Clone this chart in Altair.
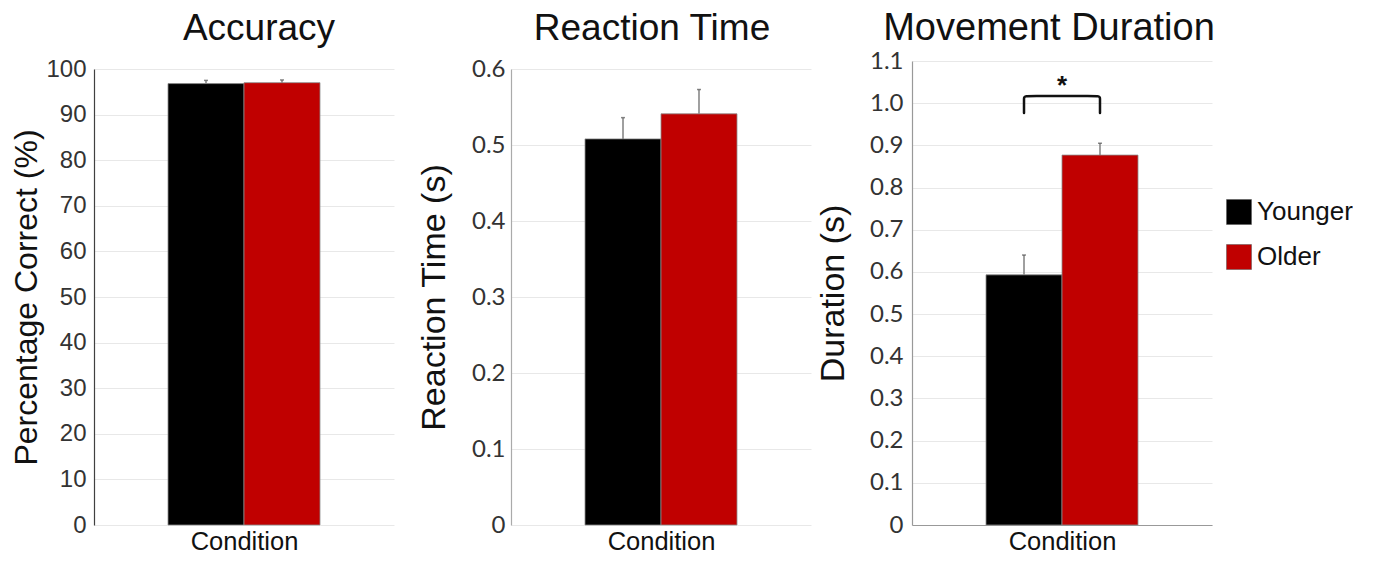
import altair as alt
import pandas as pd

groups = ["Younger", "Older"]
colors = ["#000000", "#C00000"]

acc_mean = [96.8, 97.0]
acc_err = [0.7, 0.6]
rt_mean = [0.508, 0.541]
rt_err = [0.028, 0.032]
md_mean = [0.593, 0.877]
md_err = [0.047, 0.028]

acc_ticks = [0, 10, 20, 30, 40, 50, 60, 70, 80, 90, 100]
rt_ticks = [0, 0.1, 0.2, 0.3, 0.4, 0.5, 0.6]
md_ticks = [0, 0.1, 0.2, 0.3, 0.4, 0.5, 0.6, 0.7, 0.8, 0.9, 1.0, 1.1]

bracket_group = ["Younger", "Younger", "Younger", "Older", "Older", "Older"]
bracket_y = [0.977, 1.017, 1.017, 1.017, 1.017, 0.977]
bracket_order = [0, 1, 2, 3, 4, 5]
star_group = ["Younger"]
star_y = [1.04]
star_text = ["*"]

FONT = "Liberation Sans"
FONT2 = "Lato"
H = 464


def table(means, errs):
    return pd.DataFrame({
        "group": groups,
        "mean": means,
        "upper": [m + e for m, e in zip(means, errs)],
    })


xscale = alt.Scale(domain=groups, paddingInner=0, paddingOuter=0.974)

color_enc = alt.Color(
    "group:N",
    scale=alt.Scale(domain=groups, range=colors),
    legend=alt.Legend(
        title=None, orient="none", legendX=1132, legendY=138,
        symbolType="square", symbolSize=625, symbolStrokeColor="#555555",
        symbolStrokeWidth=0.5, labelFont=FONT, labelFontSize=26,
        labelColor="#111111", labelOffset=5, rowPadding=17, padding=0,
    ),
)


def panel(means, errs, ticks, ymax, top, ytitle, title_size, label_font,
          label_size, label_expr, domain_color, x_domain, title_pad,
          label_pad, extra=None):
    df = table(means, errs)
    xaxis = alt.Axis(
        title="Condition", labels=False, ticks=False, domain=x_domain,
        domainColor="#999999", domainWidth=1.2, grid=False,
        titleFont=FONT, titleFontSize=25.5, titleFontWeight="normal",
        titleColor="#111111", titlePadding=4,
    )
    yaxis_kw = dict(
        values=ticks, title=ytitle, titleFont=FONT, titleFontSize=title_size,
        titleFontWeight="normal", titleColor="#111111",
        titlePadding=title_pad,
        labelFont=label_font, labelFontSize=label_size, labelColor="#333333",
        labelPadding=label_pad, ticks=False, domainColor=domain_color,
        domainWidth=1.2, gridColor="#e8e8e8", gridWidth=1,
    )
    if label_expr:
        yaxis_kw["labelExpr"] = label_expr
    yaxis = alt.Axis(**yaxis_kw)
    yscale = alt.Scale(domain=[0, ymax], nice=False, range=[H, top])
    x = alt.X("group:N", scale=xscale, axis=xaxis, sort=groups)
    base = alt.Chart(df)
    bars = base.mark_bar(stroke="#8a8a8a", strokeWidth=0.8).encode(
        x=x,
        y=alt.Y("mean:Q", scale=yscale, axis=yaxis),
        color=color_enc,
    )
    err = base.mark_rule(color="#808080", strokeWidth=1.5).encode(
        x=alt.X("group:N", sort=groups),
        y="mean:Q",
        y2="upper:Q",
    )
    cap = base.mark_tick(color="#555555", thickness=1.5, size=4).encode(
        x=alt.X("group:N", sort=groups),
        y="upper:Q",
    )
    layers = [bars, err, cap]
    if extra:
        layers += extra
    return alt.layer(*layers)


def finish(ch, title, size, offset, dx):
    return ch.properties(
        width=300,
        height=H,
        title=alt.Title(
            title, font=FONT, fontSize=size, fontWeight="normal",
            color="#111111", offset=offset, dx=dx, anchor="middle",
            frame="group",
        ),
    )


bracket_df = pd.DataFrame({"group": bracket_group, "y": bracket_y,
                           "o": bracket_order})
star_df = pd.DataFrame({"group": star_group, "y": star_y, "t": star_text})

bracket = alt.Chart(bracket_df).mark_line(
    color="#111111", strokeWidth=2.5, interpolate="basis",
    strokeCap="round").encode(
    x=alt.X("group:N", sort=groups),
    y="y:Q",
    order="o:Q",
)
star = alt.Chart(star_df).mark_text(
    font=FONT, fontSize=26, fontWeight="bold", color="#111111",
    baseline="middle").encode(
    x=alt.X("group:N", sort=groups, bandPosition=1),
    y="y:Q",
    text="t:N",
)

num_expr = "datum.value == 0 ? '0' : format(datum.value, '.1f')"

p1 = panel(acc_mean, acc_err, acc_ticks, 100, 8, "Percentage Correct (%)",
           32, FONT, 24, None, "#404040", False, 2, 8)
p2 = panel(rt_mean, rt_err, rt_ticks, 0.6, 8, "Reaction Time (s)",
           34, FONT2, 24, num_expr, "#aaaaaa", False, 20, 6)
p3 = panel(md_mean, md_err, md_ticks, 1.1, 0, "Duration (s)",
           34, FONT2, 24, num_expr, "#999999", True, 19, 9,
           extra=[bracket, star])

p1 = finish(p1, "Accuracy", 37, 9, 15)
p2 = finish(p2, "Reaction Time", 37, 9, -9)
p3 = finish(p3, "Movement Duration", 38, 1, -13)

chart = alt.hconcat(
    p1, alt.hconcat(p2, p3, spacing=5), spacing=23
).properties(
    padding={"left": 2, "top": 2, "right": 0, "bottom": 0}
).configure_view(stroke=None)

chart.save("out.html", embed_options={"renderer": "svg", "actions": False})
